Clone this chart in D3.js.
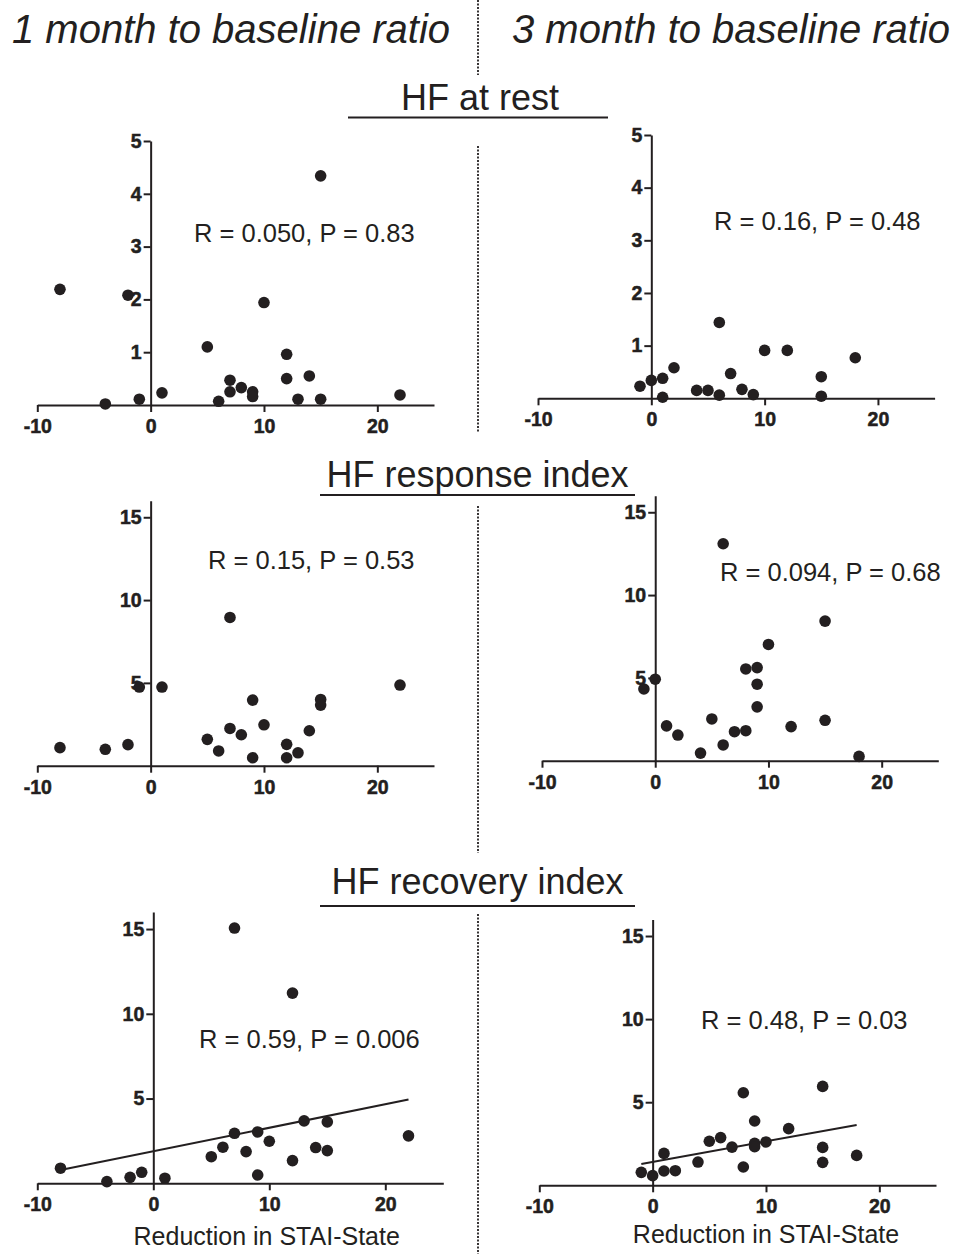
<!DOCTYPE html>
<html>
<head>
<meta charset="utf-8">
<script src="https://cdn.jsdelivr.net/npm/d3@7"></script>
<style>
  body { margin: 0; background: #fff; }
  svg { display: block; }
  text { font-family: "Liberation Sans", Arial, sans-serif; fill: #231f20; }
</style>
</head>
<body>
<div id="container"></div>
<script>
/* DATA */
const xTicks = [-10, 0, 10, 20];
const yTicksRest = [1, 2, 3, 4, 5];
const yTicksIndex = [5, 10, 15];

// reduction in STAI-State at 1 month (same subjects in the three left panels)
const stai1m  = [-8, -4, -2, -1, 1, 5, 6, 7, 7, 8, 9, 9, 10, 12, 12, 13, 14, 15, 15, 22];
const rest1m  = [2.19, 0.02, 2.08, 0.11, 0.23, 1.10, 0.07, 0.47, 0.25, 0.33, 0.25, 0.16, 1.94, 0.96, 0.50, 0.11, 0.55, 4.34, 0.11, 0.19];
const resp1m  = [1.09, 0.99, 1.27, 4.75, 4.75, 1.59, 0.89, 8.95, 2.25, 1.87, 3.96, 0.48, 2.47, 1.29, 0.48, 0.78, 2.11, 4.00, 3.66, 4.87];
const recov1m = [0.89, 0.10, 0.35, 0.65, 0.30, 1.57, 2.13, 15.06, 2.95, 1.87, 0.49, 3.03, 2.48, 11.22, 1.34, 3.68, 2.11, 3.62, 1.93, 2.80];

// 3 months (points as visible in each panel)
const staiRest3m  = [-1, 0, 1, 1, 2, 4, 5, 6, 6, 7, 8, 9, 10, 12, 15, 15, 18];
const rest3m      = [0.23, 0.34, 0.38, 0.02, 0.58, 0.15, 0.15, 1.44, 0.06, 0.47, 0.17, 0.07, 0.91, 0.91, 0.41, 0.04, 0.77];
const staiResp3m  = [-1, 0, 1, 2, 4, 5, 6, 6, 7, 8, 8, 9, 9, 9, 10, 12, 15, 15, 18];
const resp3m      = [4.33, 4.92, 2.10, 1.55, 0.46, 2.52, 13.1, 0.95, 1.75, 5.54, 1.81, 5.62, 4.62, 3.25, 7.02, 2.06, 8.43, 2.44, 0.26];
const staiRecov3m = [-1, 0, 1, 1, 2, 4, 5, 6, 7, 8, 8, 9, 9, 9, 10, 12, 15, 15, 15, 18];
const recov3m     = [0.78, 0.58, 1.92, 0.86, 0.88, 1.40, 2.65, 2.87, 2.30, 5.57, 1.10, 3.87, 2.52, 2.32, 2.61, 3.41, 5.95, 2.28, 1.38, 1.80];

const headers = ["1 month to baseline ratio", "3 month to baseline ratio"];
const titles = ["HF at rest", "HF response index", "HF recovery index"];
const stats = ["R = 0.050, P = 0.83", "R = 0.16, P = 0.48",
               "R = 0.15, P = 0.53", "R = 0.094, P = 0.68",
               "R = 0.59, P = 0.006", "R = 0.48, P = 0.03"];
const xLabel = "Reduction in STAI-State";

/* LAYOUT */
const width = 957, height = 1254;
const ink = "#231f20";

const svg = d3.select("#container")
  .append("svg")
  .attr("width", width)
  .attr("height", height);

svg.append("rect").attr("width", width).attr("height", height).attr("fill", "#fff");

const panels = [
  { xs: stai1m, ys: rest1m, stat: stats[0], xr: [37.3, 434], yMax: 5, yr: [405, 141], ticks: yTicksRest, sx: 194, sy: 242 },
  { xs: staiRest3m, ys: rest3m, stat: stats[1], xr: [538, 934.6], yMax: 5, yr: [398.3, 135], ticks: yTicksRest, sx: 714, sy: 230 },
  { xs: stai1m, ys: resp1m, stat: stats[2], xr: [37.3, 434], yMax: 16, yr: [765.7, 500.7], ticks: yTicksIndex, sx: 208, sy: 569 },
  { xs: staiResp3m, ys: resp3m, stat: stats[3], xr: [542, 938.3], yMax: 16, yr: [760.7, 495.7], ticks: yTicksIndex, sx: 720, sy: 581 },
  { xs: stai1m, ys: recov1m, stat: stats[4], xr: [37.3, 443.3], yMax: 16, yr: [1183.3, 912.1], ticks: yTicksIndex, sx: 199, sy: 1048, fit: true, label: [266.7, 1245] },
  { xs: staiRecov3m, ys: recov3m, stat: stats[5], xr: [539.3, 936], yMax: 16, yr: [1185.3, 919.4], ticks: yTicksIndex, sx: 701, sy: 1029, fit: true, label: [766, 1243] }
];

// least squares line
function fitLine(xs, ys) {
  const mx = d3.mean(xs), my = d3.mean(ys);
  const sxy = d3.sum(xs, (x, i) => (x - mx) * (ys[i] - my));
  const sxx = d3.sum(xs, x => (x - mx) * (x - mx));
  const slope = sxy / sxx;
  return { slope: slope, icept: my - slope * mx };
}

const plain = d => String(d);

panels.forEach(function (p) {
  const xScale = d3.scaleLinear().domain([-10, 25]).range(p.xr);
  const yScale = d3.scaleLinear().domain([0, p.yMax]).range(p.yr);
  const g = svg.append("g");

  const xAxis = d3.axisBottom(xScale).tickValues(xTicks).tickFormat(plain)
    .tickSize(7).tickPadding(7).tickSizeOuter(0);
  const yAxis = d3.axisLeft(yScale).tickValues(p.ticks).tickFormat(plain)
    .tickSize(7).tickPadding(2).tickSizeOuter(0);

  const gx = g.append("g")
    .attr("transform", "translate(0," + yScale(0) + ")")
    .call(xAxis);
  const gy = g.append("g")
    .attr("transform", "translate(" + xScale(0) + ",0)")
    .call(yAxis);

  [gx, gy].forEach(function (a) {
    a.select(".domain").attr("stroke", ink).attr("stroke-width", 2);
    a.selectAll(".tick line").attr("stroke", ink).attr("stroke-width", 2);
    a.selectAll(".tick text")
      .attr("fill", ink)
      .attr("stroke", ink)
      .attr("stroke-width", 0.5)
      .style("font-family", "'Liberation Sans', Arial, sans-serif")
      .style("font-weight", "bold")
      .style("font-size", "19.5px");
  });

  if (p.fit) {
    const f = fitLine(p.xs, p.ys);
    const ends = d3.extent(p.xs);
    g.append("line")
      .attr("x1", xScale(ends[0])).attr("y1", yScale(f.icept + f.slope * ends[0]))
      .attr("x2", xScale(ends[1])).attr("y2", yScale(f.icept + f.slope * ends[1]))
      .attr("stroke", ink)
      .attr("stroke-width", 2);
  }

  g.append("g")
    .selectAll("circle")
    .data(p.xs.map((x, i) => ({ x: x, y: p.ys[i] })))
    .enter().append("circle")
    .attr("cx", d => xScale(d.x))
    .attr("cy", d => yScale(d.y))
    .attr("r", 5.8)
    .attr("fill", ink);

  g.append("text")
    .attr("x", p.sx).attr("y", p.sy)
    .style("font-size", "25.5px")
    .text(p.stat);

  if (p.label) {
    g.append("text")
      .attr("x", p.label[0]).attr("y", p.label[1])
      .attr("text-anchor", "middle")
      .style("font-size", "25px")
      .text(xLabel);
  }
});

/* HEADINGS */
svg.append("text").attr("x", 12).attr("y", 43)
  .style("font-size", "40px").style("font-style", "italic")
  .text(headers[0]);
svg.append("text").attr("x", 512).attr("y", 43)
  .style("font-size", "40px").style("font-style", "italic")
  .text(headers[1]);

const titlePos = [
  { x: 480, y: 110, line: [348, 608, 117.5] },
  { x: 477.5, y: 487, line: [320, 635, 495] },
  { x: 477.5, y: 894, line: [320, 635, 906] }
];
titlePos.forEach(function (t, i) {
  svg.append("text")
    .attr("x", t.x).attr("y", t.y)
    .attr("text-anchor", "middle")
    .style("font-size", "36px")
    .text(titles[i]);
  svg.append("line")
    .attr("x1", t.line[0]).attr("x2", t.line[1])
    .attr("y1", t.line[2]).attr("y2", t.line[2])
    .attr("stroke", ink).attr("stroke-width", 2.2);
});

// dotted divider
[[0, 75], [146, 432], [506, 853], [914, 1254]].forEach(function (s) {
  svg.append("line")
    .attr("x1", 478).attr("x2", 478)
    .attr("y1", s[0]).attr("y2", s[1])
    .attr("stroke", ink)
    .attr("stroke-width", 1.8)
    .attr("stroke-dasharray", "2,1.5");
});
</script>
</body>
</html>
